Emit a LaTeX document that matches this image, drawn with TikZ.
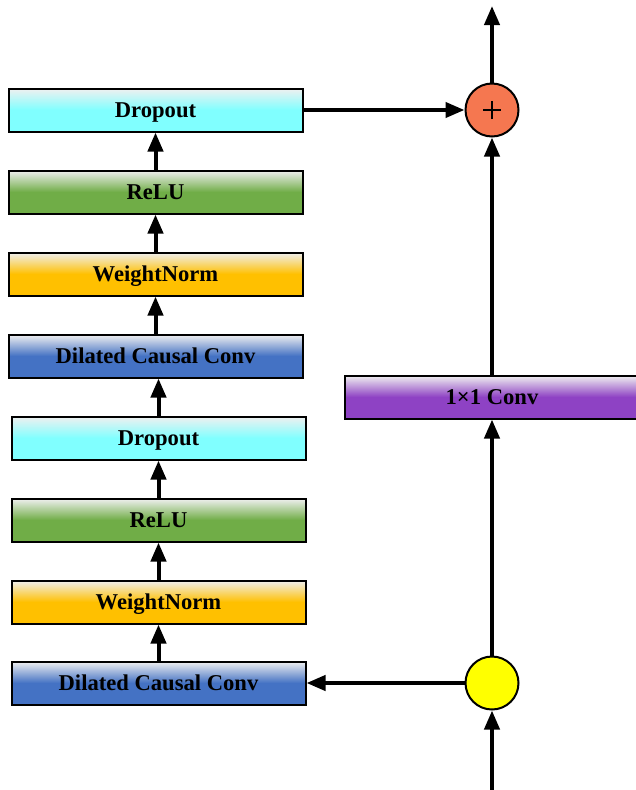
\documentclass[tikz,border=0pt]{standalone}
\usepackage{fontspec}
\setmainfont{Liberation Serif}
\usetikzlibrary{arrows.meta}
\definecolor{cDrop}{RGB}{128,255,255}
\definecolor{cRelu}{RGB}{112,173,71}
\definecolor{cWn}{RGB}{255,192,0}
\definecolor{cDc}{RGB}{68,114,196}
\definecolor{cConv}{RGB}{142,66,196}
\definecolor{cPlus}{RGB}{245,119,80}
\definecolor{cYel}{RGB}{255,255,0}
\definecolor{cTop}{RGB}{240,240,240}
\begin{document}
\begin{tikzpicture}[x=1pt,y=-1pt,
  blk/.style={draw=black, line width=2pt, minimum width=294pt, minimum height=43pt,
    inner sep=0pt, text height=15pt, text depth=0pt, font=\fontsize{22.6}{26}\selectfont\bfseries,
    top color=cTop, bottom color=#1, middle color=#1},
  arr/.style={line width=4pt, -{Triangle[length=19pt,width=15pt]}},
  circ/.style={circle, draw=black, line width=2pt, minimum size=53pt, inner sep=0pt, fill=#1}
]
\useasboundingbox (0,0) rectangle (636,790);

\node[blk=cDrop] (drop1) at (155.5,110) {Dropout};
\node[blk=cRelu] (relu1) at (155.5,192) {ReLU};
\node[blk=cWn]   (wn1)   at (155.5,274) {WeightNorm};
\node[blk=cDc]   (dc1)   at (155.5,356) {Dilated Causal Conv};
\node[blk=cDrop] (drop2) at (158.5,438) {Dropout};
\node[blk=cRelu] (relu2) at (158.5,520) {ReLU};
\node[blk=cWn]   (wn2)   at (158.5,602) {WeightNorm};
\node[blk=cDc]   (dc2)   at (158.5,683) {Dilated Causal Conv};

\node[blk=cConv] (conv) at (492,397) {1×1 Conv};

\node[circ=cPlus, path picture={
  \draw[line width=2pt] ([xshift=-9pt]path picture bounding box.center) -- ([xshift=9pt]path picture bounding box.center);
  \draw[line width=2pt] ([yshift=-9pt]path picture bounding box.center) -- ([yshift=9pt]path picture bounding box.center);
}] (plus) at (492,110) {};
\node[circ=cYel] (yel) at (492,683) {};

\coordinate (out) at (492,6);
\coordinate (in) at (492,792);

\draw[arr] (relu1.north) -- (drop1.south);
\draw[arr] (wn1.north) -- (relu1.south);
\draw[arr] (dc1.north) -- (wn1.south);
\draw[arr] (drop2.north) -- (drop2.north |- dc1.south);
\draw[arr] (relu2.north) -- (drop2.south);
\draw[arr] (wn2.north) -- (relu2.south);
\draw[arr] (dc2.north) -- (wn2.south);

\draw[arr] (in) -- (yel.south);
\draw[arr] (yel.west) -- (dc2.east);
\draw[arr] (yel.north) -- (conv.south);
\draw[arr] (conv.north) -- (plus.south);
\draw[arr] (drop1.east) -- (plus.west);
\draw[arr] (plus.north) -- (out);
\end{tikzpicture}
\end{document}
